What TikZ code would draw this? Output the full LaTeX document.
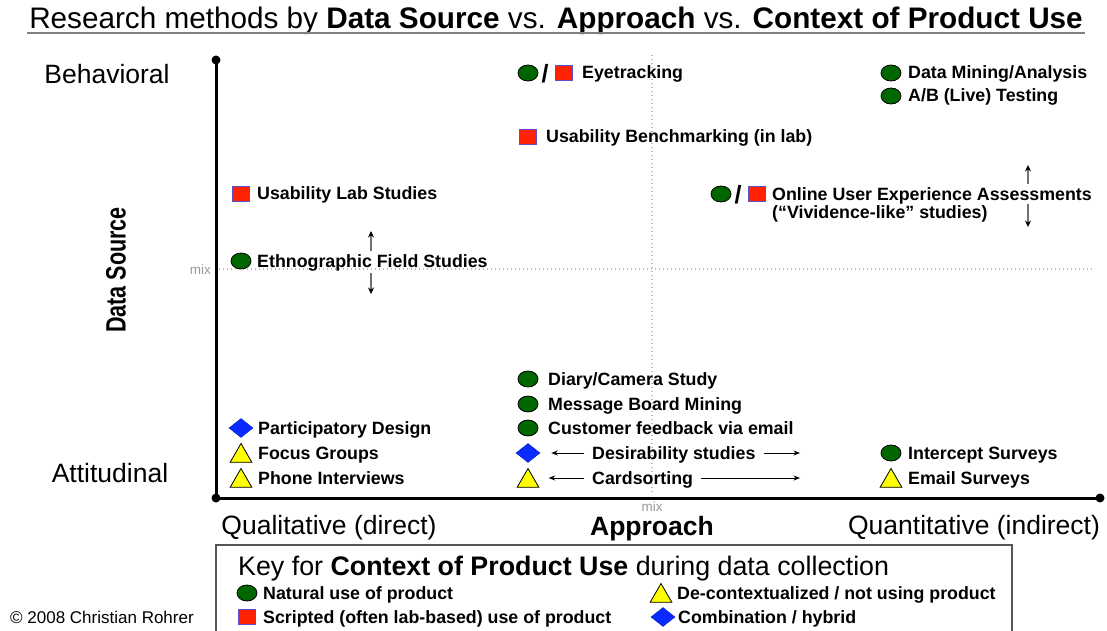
\documentclass[tikz,border=0pt]{standalone}
\usepackage{graphicx}
\usepackage{fontspec}
\setmainfont{Liberation Sans}
\usetikzlibrary{shapes.geometric,arrows.meta}

\definecolor{natgreen}{HTML}{006600}
\definecolor{scred}{HTML}{FF2200}
\definecolor{scedge}{HTML}{5A4FCF}
\definecolor{hybblue}{HTML}{0A2BFF}
\definecolor{decyel}{HTML}{FFFF00}
\definecolor{dotgray}{HTML}{BBBBBB}
\definecolor{mixgray}{HTML}{999999}
\definecolor{keyedge}{HTML}{555555}
\definecolor{shaftgray}{HTML}{707070}

\newcommand\itemfont{\bfseries\fontsize{17.8}{18}\selectfont}
\newcommand\axisfont{\fontsize{26.5}{30}\selectfont}
\newcommand\mixfont{\fontsize{13.5}{14}\selectfont}

\begin{document}
\begin{tikzpicture}[x=1pt,y=-1pt,
  natural/.style={ellipse, draw=black, line width=0.8pt, fill=natgreen,
    minimum width=20pt, minimum height=16pt, inner sep=0pt},
  scripted/.style={rectangle, draw=scedge, line width=1.2pt, fill=scred,
    minimum width=17pt, minimum height=15pt, inner sep=0pt},
  hybrid/.style={diamond, draw=hybblue!80!black, line width=0.5pt, fill=hybblue,
    minimum width=24pt, minimum height=19pt, inner sep=0pt},
  decontext/.style={regular polygon, regular polygon sides=3, draw=black,
    line width=0.8pt, fill=decyel, minimum size=25pt, inner sep=0pt, yshift=-3pt},
  slash/.style={font=\bfseries\fontsize{25}{25}\selectfont, inner sep=0pt},
  item/.style={anchor=base west, inner sep=0pt, font=\itemfont},
  axislbl/.style={anchor=base, inner sep=0pt, font=\axisfont},
  mixlbl/.style={inner sep=0pt, font=\mixfont, text=mixgray},
  mixline/.style={dotgray, line width=1.3pt, dash pattern=on 1.3pt off 2.7pt},
  axisline/.style={line width=3pt, line cap=round},
  harr/.style={line width=0.9pt, -{Stealth[length=6.5pt, width=5pt]}},
  varr/.style={draw=shaftgray, line width=2pt,
    -{Stealth[length=6.5pt, width=6pt, color=black]}},
]
\useasboundingbox (0,0) rectangle (1107,631);

% title
\node[anchor=base, inner sep=0pt, font=\fontsize{29.7}{34}\selectfont] (title) at (556,29)
  {Research methods by \textbf{Data Source} vs. \textbf{Approach} vs. \textbf{Context of Product Use}};
\draw[gray, line width=1.6pt] ([xshift=-2pt,yshift=-4pt]title.base west) -- ([xshift=2pt,yshift=-4pt]title.base east);

% mix guide lines
\draw[mixline] (219,269) -- (1093,269);
\draw[mixline] (652,55) -- (652,495);
\node[mixlbl, anchor=east] (mixL) at (211,270) {mix};
\node[mixlbl] (mixB) at (652,507) {mix};

% axes
\coordinate (top) at (216,60);
\coordinate (origin) at (216,498);
\coordinate (right) at (1100,498);
\draw[axisline] (top) -- (origin) -- (right);
\fill (top) circle (4.5pt);
\fill (origin) circle (4.5pt);
\fill (right) circle (4.5pt);

% axis labels
\node[axislbl] (behav) at (107,84) {Behavioral};
\node[axislbl] (attit) at (110,482) {Attitudinal};
\node[rotate=90, inner sep=0pt, font=\bfseries\fontsize{28}{30}\selectfont] (dsrc) at (116,270)
  {\scalebox{0.77}[1]{Data Source}};
\node[axislbl] (qual) at (329,534) {Qualitative (direct)};
\node[axislbl, font=\bfseries\fontsize{26.5}{30}\selectfont] (appr) at (652,535) {Approach};
\node[axislbl] (quant) at (974,534) {Quantitative (indirect)};

% behavioral methods
\node[natural] (eyeN) at (528,73) {};
\node[slash] (eyeSl) at (545,74) {/};
\node[scripted] (eyeS) at (564,73) {};
\node[item] (eyeL) at (582,79) {Eyetracking};

\node[natural] (dmM) at (891,73) {};
\node[item] (dmL) at (908,79) {Data Mining/Analysis};
\node[natural] (abM) at (891,96) {};
\node[item] (abL) at (908,102) {A/B (Live) Testing};

\node[scripted] (ubM) at (528,137) {};
\node[item] (ubL) at (546,143) {Usability Benchmarking (in lab)};

\node[scripted] (ulM) at (241,194) {};
\node[item] (ulL) at (257,200) {Usability Lab Studies};

\node[natural] (ouxN) at (721,194) {};
\node[slash] (ouxSl) at (738,195) {/};
\node[scripted] (ouxS) at (757,194) {};
\node[item, anchor=west, align=left] (ouxL) at (772,204.5)
  {Online User Experience Assessments\\(“Vividence-like” studies)};
\coordinate (ouxUa) at (1028,184);
\coordinate (ouxUb) at (1028,165);
\coordinate (ouxDa) at (1028,204);
\coordinate (ouxDb) at (1028,227);
\draw[varr] (ouxUa) -- (ouxUb);
\draw[varr] (ouxDa) -- (ouxDb);

\node[natural] (ethM) at (241,261) {};
\node[item] (ethL) at (257,267) {Ethnographic Field Studies};
\coordinate (ethUa) at (371,251);
\coordinate (ethUb) at (371,231);
\coordinate (ethDa) at (371,273);
\coordinate (ethDb) at (371,294);
\draw[varr] (ethUa) -- (ethUb);
\draw[varr] (ethDa) -- (ethDb);

% attitudinal methods
\node[natural] (diaM) at (528,379) {};
\node[item] (diaL) at (548,385) {Diary/Camera Study};
\node[natural] (mbM) at (528,404) {};
\node[item] (mbL) at (548,410) {Message Board Mining};
\node[natural] (cfM) at (528,428) {};
\node[item] (cfL) at (548,434) {Customer feedback via email};

\node[hybrid] (desM) at (528,453) {};
\node[item] (desL) at (592,459) {Desirability studies};
\coordinate (desR) at (800,453);
\draw[harr, shorten <=8pt, shorten >=11pt] (desL.west |- desR) -- (desM.east);
\draw[harr, shorten <=8pt] (desL.east |- desR) -- (desR);

\node[decontext] (cardM) at (528,478) {};
\node[item] (cardL) at (592,484) {Cardsorting};
\coordinate (cardR) at (800,478);
\draw[harr, shorten <=8pt, shorten >=13pt] (cardL.west |- cardR) -- (cardM.east |- cardR);
\draw[harr, shorten <=8pt] (cardL.east |- cardR) -- (cardR);

\node[hybrid] (pdM) at (241,428) {};
\node[item] (pdL) at (258,434) {Participatory Design};
\node[decontext] (fgM) at (241,453) {};
\node[item] (fgL) at (258,459) {Focus Groups};
\node[decontext] (phM) at (241,478) {};
\node[item] (phL) at (258,484) {Phone Interviews};

\node[natural] (isM) at (891,453) {};
\node[item] (isL) at (908,459) {Intercept Surveys};
\node[decontext] (esM) at (891,478) {};
\node[item] (esL) at (908,484) {Email Surveys};

% key
\draw[keyedge, line width=1.5pt] (216,545) rectangle (1012,645);
\node[anchor=base west, inner sep=0pt, font=\fontsize{26.8}{30}\selectfont] (keyT) at (238,575)
  {Key for \textbf{Context of Product Use} during data collection};
\node[natural] (kN) at (247,593) {};
\node[item] (kNL) at (263,599) {Natural use of product};
\node[scripted] (kS) at (247,617) {};
\node[item] (kSL) at (263,623) {Scripted (often lab-based) use of product};
\node[decontext] (kD) at (661,593) {};
\node[item] (kDL) at (677,599) {De-contextualized / not using product};
\node[hybrid] (kH) at (663,617) {};
\node[item] (kHL) at (678,623) {Combination / hybrid};

\node[anchor=base west, inner sep=0pt, font=\fontsize{17}{20}\selectfont] (copy) at (10,623)
  {© 2008 Christian Rohrer};
\end{tikzpicture}
\end{document}
